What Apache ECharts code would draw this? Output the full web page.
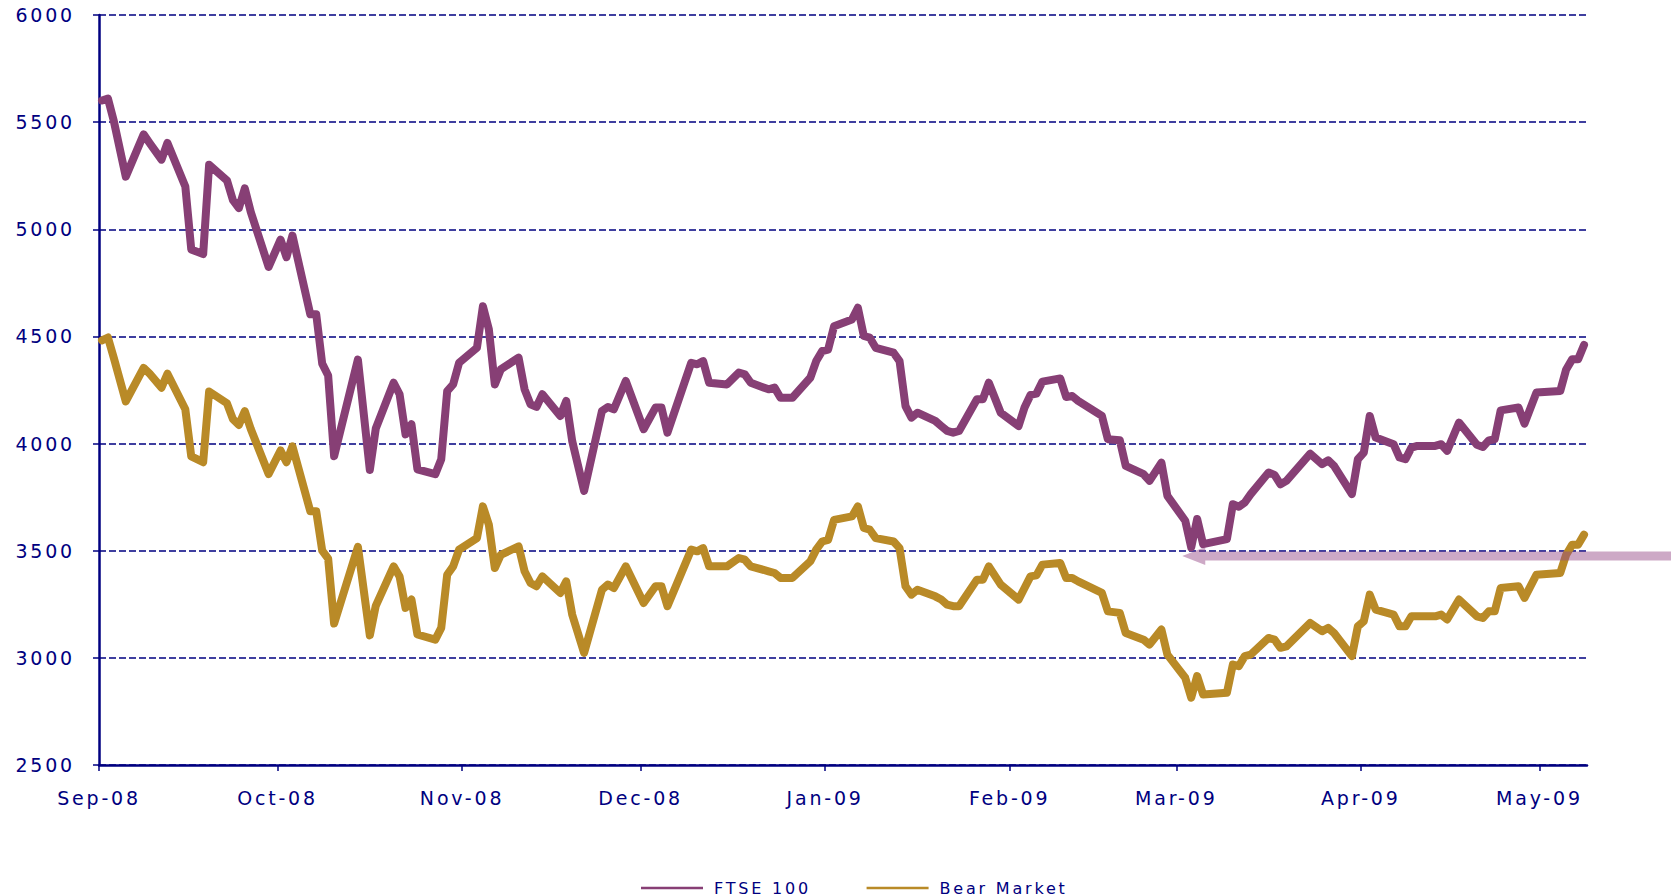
<!DOCTYPE html>
<html>
<head>
<meta charset="utf-8">
<script src="https://cdn.jsdelivr.net/npm/echarts@6/dist/echarts.min.js"></script>
<style>
  html, body { margin: 0; padding: 0; background: #fff; }
  #main { width: 1671px; height: 896px; }
  #main text { letter-spacing: 2.8px; }
</style>
</head>
<body>
<div id="main"></div>
<script>
// ---- data ----
const dates = [
 '2008-09-01','2008-09-02','2008-09-03','2008-09-05','2008-09-08','2008-09-09','2008-09-11','2008-09-12','2008-09-15','2008-09-16',
 '2008-09-18','2008-09-19','2008-09-22','2008-09-23','2008-09-24','2008-09-25','2008-09-26','2008-09-29','2008-10-01','2008-10-02',
 '2008-10-03','2008-10-06','2008-10-07','2008-10-08','2008-10-09','2008-10-10','2008-10-14','2008-10-16','2008-10-17','2008-10-20',
 '2008-10-21','2008-10-22','2008-10-23','2008-10-24','2008-10-27','2008-10-28','2008-10-29','2008-10-30','2008-10-31','2008-11-03',
 '2008-11-04','2008-11-05','2008-11-06','2008-11-07','2008-11-10','2008-11-11','2008-11-12','2008-11-13','2008-11-14','2008-11-17',
 '2008-11-18','2008-11-19','2008-11-21','2008-11-24','2008-11-25','2008-11-26','2008-11-28','2008-12-01','2008-12-03','2008-12-04',
 '2008-12-05','2008-12-09','2008-12-10','2008-12-11','2008-12-12','2008-12-15','2008-12-17','2008-12-18','2008-12-19','2008-12-22',
 '2008-12-23','2008-12-24','2008-12-26','2008-12-29','2008-12-30','2008-12-31','2009-01-01','2009-01-02','2009-01-05','2009-01-06',
 '2009-01-07','2009-01-08','2009-01-09','2009-01-12','2009-01-13','2009-01-14','2009-01-15','2009-01-16','2009-01-19','2009-01-20',
 '2009-01-21','2009-01-22','2009-01-23','2009-01-26','2009-01-27','2009-01-28','2009-01-30','2009-02-02','2009-02-03','2009-02-04',
 '2009-02-05','2009-02-06','2009-02-09','2009-02-10','2009-02-11','2009-02-12','2009-02-16','2009-02-17','2009-02-19','2009-02-20',
 '2009-02-23','2009-02-24','2009-02-26','2009-02-27','2009-03-02','2009-03-03','2009-03-04','2009-03-05','2009-03-09','2009-03-10',
 '2009-03-11','2009-03-12','2009-03-13','2009-03-16','2009-03-17','2009-03-18','2009-03-19','2009-03-23','2009-03-25','2009-03-26',
 '2009-03-27','2009-03-30','2009-03-31','2009-04-01','2009-04-02','2009-04-03','2009-04-06','2009-04-07','2009-04-08','2009-04-09',
 '2009-04-10','2009-04-13','2009-04-14','2009-04-15','2009-04-17','2009-04-20','2009-04-21','2009-04-22','2009-04-23','2009-04-24',
 '2009-04-27','2009-04-28','2009-04-30','2009-05-04','2009-05-05','2009-05-06','2009-05-07','2009-05-08'
];
const ftse100 = [
 5601,5610,5504,5246,5443,5403,5325,5403,5200,4906,
 4884,5301,5228,5136,5099,5191,5081,4824,4952,4870,
 4971,4603,4603,4373,4318,3941,4392,3877,4070,4284,
 4230,4043,4090,3880,3857,3927,4245,4276,4377,4447,
 4641,4533,4276,4346,4401,4253,4183,4171,4230,4129,
 4199,4012,3779,4152,4171,4160,4292,4067,4168,4168,
 4051,4377,4370,4385,4284,4276,4331,4323,4284,4253,
 4261,4214,4214,4307,4385,4432,4439,4548,4579,4634,
 4502,4494,4447,4424,4385,4175,4121,4144,4106,4082,
 4059,4051,4059,4207,4207,4284,4144,4082,4168,4227,
 4233,4289,4304,4217,4222,4199,4129,4020,4016,3896,
 3857,3826,3911,3756,3640,3515,3648,3531,3554,3717,
 3705,3725,3764,3865,3854,3810,3826,3953,3904,3922,
 3896,3764,3927,3958,4129,4028,3997,3935,3927,3981,
 3989,3989,3997,3966,4098,3994,3984,4015,4020,4155,
 4168,4093,4238,4245,4346,4393,4393,4460
];
const bearMarket = [
 4482,4495,4399,4197,4353,4326,4261,4326,4160,3940,
 3913,4243,4188,4114,4087,4151,4068,3858,3968,3913,
 3987,3684,3684,3500,3463,3160,3518,3105,3243,3427,
 3380,3233,3272,3109,3085,3140,3388,3427,3505,3559,
 3707,3621,3419,3481,3520,3404,3349,3334,3380,3303,
 3357,3202,3023,3318,3342,3326,3427,3256,3334,3334,
 3241,3505,3497,3512,3427,3427,3466,3458,3427,3404,
 3396,3373,3373,3450,3505,3543,3551,3644,3660,3707,
 3606,3598,3559,3543,3512,3334,3295,3318,3287,3272,
 3248,3241,3241,3365,3365,3427,3342,3272,3326,3380,
 3385,3435,3443,3373,3373,3357,3303,3217,3210,3116,
 3085,3062,3132,3015,2907,2814,2915,2829,2837,2969,
 2961,3008,3015,3093,3085,3047,3054,3163,3124,3140,
 3116,3008,3147,3171,3295,3225,3202,3147,3147,3194,
 3194,3194,3202,3179,3272,3194,3186,3217,3217,3326,
 3334,3280,3388,3396,3481,3528,3528,3575
];
const seriesNames = ['FTSE 100', 'Bear Market'];
const monthNames = ['Jan','Feb','Mar','Apr','May','Jun','Jul','Aug','Sep','Oct','Nov','Dec'];
const axisStart = '2008-09-01';
const axisEnd = '2009-05-09';
const yMin = 2500, yMax = 6000, yStep = 500;
const arrowTip = ['2009-03-02', 3475];

// ---- helpers ----
function toTime(s, hour) {
  const p = s.split('-').map(Number);
  return new Date(p[0], p[1] - 1, p[2], hour || 0).getTime();
}
const NAVY = '#000080';
const FONT = 'DejaVu Sans';
const C_FTSE = '#873F75';
const C_BEAR = '#B98A27';

const chart = echarts.init(document.getElementById('main'), null, { renderer: 'svg' });
const DAY = 86400000;

const option = {
  animation: false,
  backgroundColor: '#ffffff',
  color: [C_FTSE, C_BEAR],
  grid: { left: 99, right: 84, top: 15, bottom: 131, containLabel: false },
  legend: {
    data: seriesNames,
    left: 636,
    top: 875,
    icon: 'rect',
    itemWidth: 62,
    itemHeight: 2.5,
    itemGap: 78,
    textStyle: { color: NAVY, fontFamily: FONT, fontSize: 16, padding: [0, 0, 0, 6] }
  },
  xAxis: {
    type: 'time',
    min: toTime(axisStart),
    max: toTime(axisEnd),
    minInterval: 28 * DAY,
    maxInterval: 31 * DAY,
    axisLine: { show: true, lineStyle: { color: NAVY, width: 2.5 } },
    axisTick: { show: true, length: 6, lineStyle: { color: NAVY, width: 1.5 } },
    splitLine: { show: false },
    axisLabel: {
      color: NAVY, fontFamily: FONT, fontSize: 19, margin: 23,
      showMinLabel: true, showMaxLabel: false, hideOverlap: false,
      formatter: function (v) {
        const d = new Date(v);
        return monthNames[d.getMonth()] + '-' + String(d.getFullYear() % 100).padStart(2, '0');
      }
    }
  },
  yAxis: {
    type: 'value',
    min: yMin, max: yMax, interval: yStep,
    axisLine: { show: true, lineStyle: { color: NAVY, width: 2.5 } },
    axisTick: { show: true, length: 6, lineStyle: { color: NAVY, width: 1.5 } },
    axisLabel: { color: NAVY, fontFamily: FONT, fontSize: 19, margin: 24,
      formatter: function (v) { return String(v); } },
    splitLine: { show: true, lineStyle: { color: NAVY, width: 1.6, type: [7, 3] } }
  },
  series: [
    {
      name: seriesNames[0], type: 'line', showSymbol: false, symbol: 'none',
      data: dates.map((d, i) => [toTime(d, 12), ftse100[i]]),
      lineStyle: { color: C_FTSE, width: 8, cap: 'round', join: 'round' },
      itemStyle: { color: C_FTSE }, z: 3
    },
    {
      name: seriesNames[1], type: 'line', showSymbol: false, symbol: 'none',
      data: dates.map((d, i) => [toTime(d, 12), bearMarket[i]]),
      lineStyle: { color: C_BEAR, width: 8, cap: 'round', join: 'round' },
      itemStyle: { color: C_BEAR }, z: 3
    }
  ]
};
chart.setOption(option);

// annotation arrow pointing at the March low, extending to the right edge
const tip = chart.convertToPixel({ gridIndex: 0 }, [toTime(arrowTip[0]), arrowTip[1]]);
const W = chart.getWidth();
const hx = tip[0] + 23, hh = 9, sh = 4.5;
chart.setOption({
  graphic: [{
    type: 'polygon', z: 100,
    shape: { points: [
      [tip[0], tip[1]], [hx, tip[1] - hh], [hx, tip[1] - sh], [W, tip[1] - sh],
      [W, tip[1] + sh], [hx, tip[1] + sh], [hx, tip[1] + hh]
    ] },
    style: { fill: 'rgba(150,75,135,0.48)' }
  }]
});
</script>
</body>
</html>
